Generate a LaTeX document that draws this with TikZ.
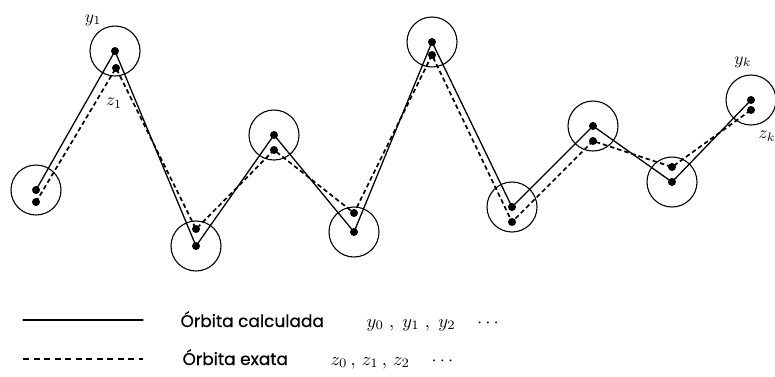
\documentclass[tikz,border=0pt]{standalone}
\usepackage{fontspec}
\setmainfont{Poppins}
\newfontfamily\legfont{Poppins}[FakeBold=0.6]
\begin{document}
\begin{tikzpicture}[x=1pt,y=-1pt,line join=round,line cap=round,
    dot/.style={circle,fill=black,inner sep=0pt,minimum size=8pt},
    ball/.style={circle,draw,line width=1.1pt,inner sep=0pt,minimum size=50pt},
    calc/.style={line width=1.3pt},
    exact/.style={line width=1.7pt,line cap=butt,dash pattern=on 4.5pt off 3pt},
    lbl/.style={scale=1.75},
    legtext/.style={anchor=base west,font=\legfont\fontsize{17}{18}\selectfont},
    legmath/.style={anchor=base west,scale=1.85}]
  \useasboundingbox (0,0) rectangle (775,376);

  % orbita calculada
  \node[dot] (y0) at (36,190) {};
  \node[dot] (y1) at (115,51) {};
  \node[dot] (y2) at (196,246) {};
  \node[dot] (y3) at (274,135) {};
  \node[dot] (y4) at (354,232) {};
  \node[dot] (y5) at (432,42) {};
  \node[dot] (y6) at (512,207) {};
  \node[dot] (y7) at (593,126) {};
  \node[dot] (y8) at (672,182) {};
  \node[dot] (y9) at (751,100) {};

  % orbita exata
  \node[dot] (z0) at (36,202) {};
  \node[dot] (z1) at (116,68) {};
  \node[dot] (z2) at (196,229) {};
  \node[dot] (z3) at (274,150) {};
  \node[dot] (z4) at (354,213) {};
  \node[dot] (z5) at (432,55) {};
  \node[dot] (z6) at (512,222) {};
  \node[dot] (z7) at (593,141) {};
  \node[dot] (z8) at (672,167) {};
  \node[dot] (z9) at (751,110) {};

  % circulos em volta de y_i
  \node[ball] (c0) at (y0) {};
  \node[ball] (c1) at (y1) {};
  \node[ball] (c2) at (y2) {};
  \node[ball] (c3) at (y3) {};
  \node[ball] (c4) at (y4) {};
  \node[ball] (c5) at (y5) {};
  \node[ball] (c6) at (y6) {};
  \node[ball] (c7) at (y7) {};
  \node[ball] (c8) at (y8) {};
  \node[ball] (c9) at (y9) {};

  % ligacoes
  \draw[calc] (y0.center) -- (y1.center) -- (y2.center) -- (y3.center) -- (y4.center)
    -- (y5.center) -- (y6.center) -- (y7.center) -- (y8.center) -- (y9.center);
  \draw[exact] (z0.center) -- (z1.center) -- (z2.center) -- (z3.center) -- (z4.center)
    -- (z5.center) -- (z6.center) -- (z7.center) -- (z8.center) -- (z9.center);

  % rotulos
  \node[lbl] (ly1) at (93,20) {$y_1$};
  \node[lbl] (lz1) at (114,103) {$z_1$};
  \node[lbl] (lyk) at (743,62) {$y_k$};
  \node[lbl] (lzk) at (767,136) {$z_k$};

  % legenda
  \coordinate (s1) at (23,320);
  \coordinate (s2) at (143,320);
  \coordinate (d1) at (23,359);
  \coordinate (d2) at (143,359);
  \draw[calc] (s1) -- (s2);
  \draw[exact,line width=1.3pt,dash pattern=on 6pt off 4.5pt] (d1) -- (d2);
  \node[legtext] (t1) at (177,327) {Órbita calculada};
  \node[legmath] (m1) at (360,327) {$y_0\;,\;y_1\;,\;y_2\quad\cdots$};
  \node[legtext] (t2) at (179,365) {Órbita exata};
  \node[legmath] (m2) at (324,365) {$z_0\,,\,z_1\,,\,z_2\quad\cdots$};
\end{tikzpicture}
\end{document}
